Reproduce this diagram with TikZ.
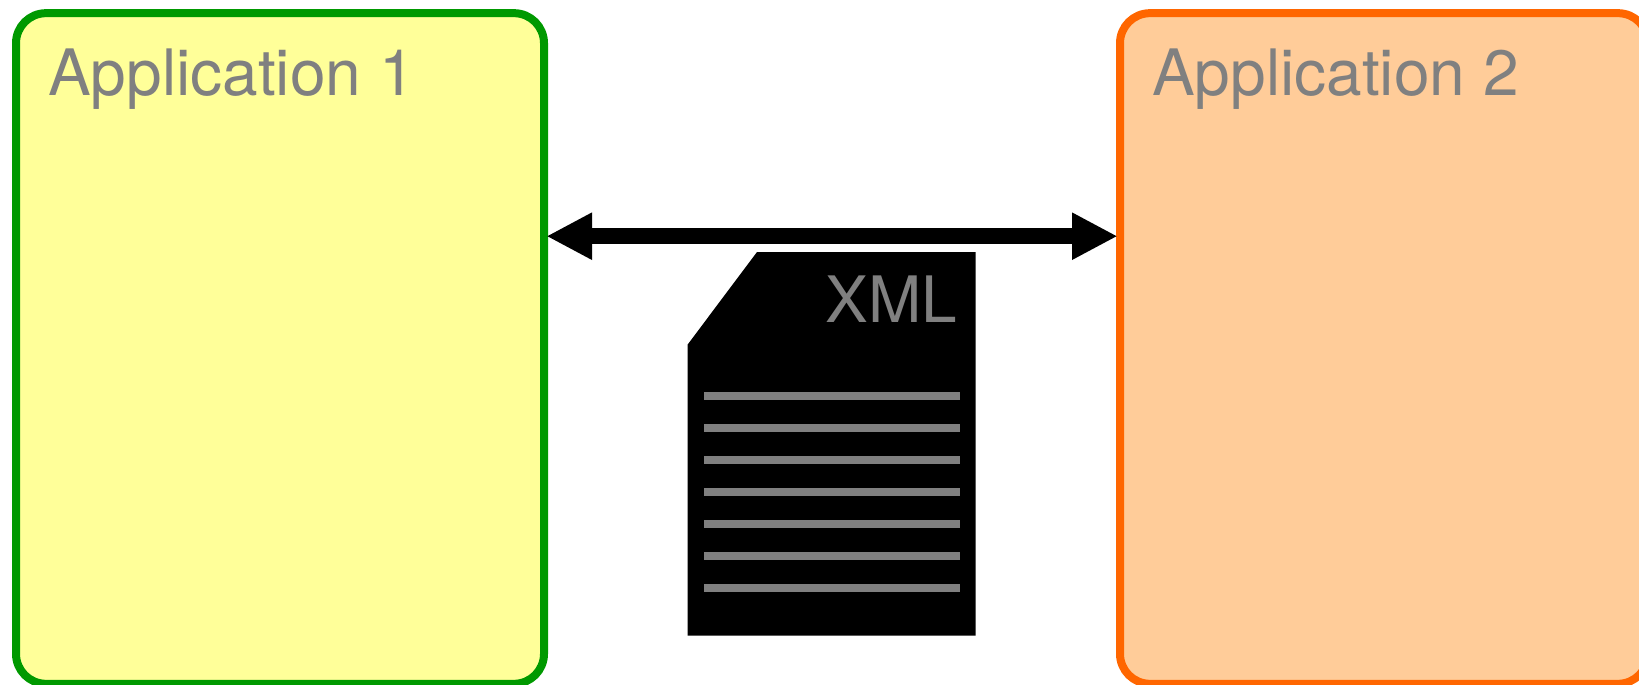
\documentclass[tikz,border=0pt]{standalone}
\usepackage{fontspec}
\setmainfont{TeX Gyre Heros}
\usetikzlibrary{arrows.meta}
\definecolor{appA}{HTML}{FFFF99}
\definecolor{appAline}{HTML}{009900}
\definecolor{appB}{HTML}{FFCC99}
\definecolor{appBline}{HTML}{FF6600}
\definecolor{labelgrey}{HTML}{808080}
\tikzset{
  appbox/.style={rectangle,draw,line width=6pt,rounded corners=22.5pt,minimum width=396pt,minimum height=503pt,inner sep=0pt},
  applabel/.style={anchor=base west,inner sep=0pt,text=labelgrey,font=\fontsize{48pt}{48pt}\selectfont},
  exchange/.style={line width=12pt,{Triangle[length=34.2pt,width=33pt]}-{Triangle[length=34.2pt,width=33pt]},shorten <=-1.2pt,shorten >=-1.2pt},
  docline/.style={draw=none,fill=labelgrey}
}
\begin{document}
\begin{tikzpicture}[x=0.75pt,y=-0.75pt]
\useasboundingbox (0,0) rectangle (1639,685);
\clip (0,0) rectangle (1639,685);
\node[appbox,draw=appAline,fill=appA] (app1) at (280,348.5) {};
\node[appbox,draw=appBline,fill=appB] (app2) at (1384,348.5) {};
\node[applabel] (label1) at (48,95) {Application 1};
\node[applabel] (label2) at (1152,95) {Application 2};
\coordinate (level) at (0,236.2);
\draw[exchange] (app1.east |- level) -- (app2.west |- level);
\fill[black] (757,252) -- (975.7,252) -- (975.7,635.5) -- (687.7,635.5) -- (687.7,344.5) -- cycle;
\node[anchor=base east,inner sep=0pt,text=labelgrey,font=\fontsize{48pt}{48pt}\selectfont] (xml) at (957.5,322) {XML};
\foreach \y in {396,428,460,492,524,556,588}
  \fill[docline] (704,\y-4) rectangle (960,\y+4);
\end{tikzpicture}
\end{document}
